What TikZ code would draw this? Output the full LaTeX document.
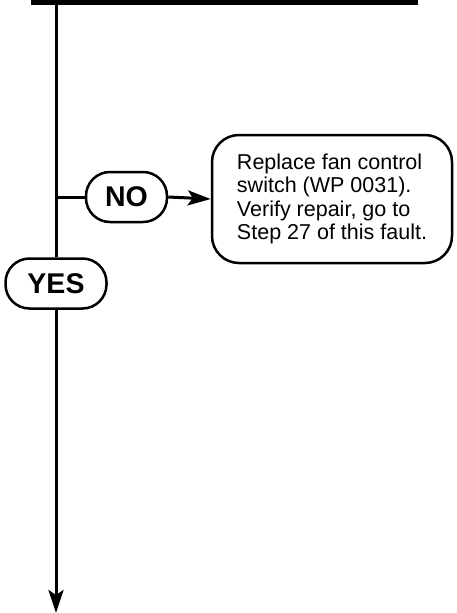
\documentclass[tikz,border=0pt]{standalone}
\usepackage{fontspec}
\setmainfont{Liberation Sans}
\usetikzlibrary{arrows.meta}
\tikzset{
  flow/.style={line width=3pt},
  tip/.style={-{Stealth[length=23pt 0,width=15pt 0,inset=5pt]}},
  answer/.style={draw, line width=2.5pt, rounded corners=24pt, minimum width=81pt, minimum height=50pt, inner sep=0pt, font=\fontsize{28.5}{30}\selectfont\bfseries},
  action/.style={draw, line width=2.5pt, rounded corners=27pt, minimum width=240pt, minimum height=128pt, inner sep=0pt, align=left, font=\fontsize{21.5}{23.3}\selectfont}
}
\begin{document}
\begin{tikzpicture}[x=1pt,y=-1pt]
\useasboundingbox (0,0) rectangle (456,613);
\fill (31,0) rectangle (418,4.7);
\coordinate (top) at (56,0);
\coordinate (junc) at (56,197);
\coordinate (bottom) at (56,613);
\node[answer] (no) at (126.5,197) {NO};
\node[answer, minimum width=101pt] (yes) at (56,283.5) {YES};
\node[action] (act) at (332,199) {Replace fan control\\ switch (WP 0031).\\ Verify repair, go to\\ Step 27 of this fault.};
\draw[flow] (top) -- (yes.north);
\draw[flow] (junc) -- (no.west);
\draw[flow, tip] (no.east) -- (act.west);
\draw[flow, tip] (yes.south) -- (bottom);
\end{tikzpicture}
\end{document}
